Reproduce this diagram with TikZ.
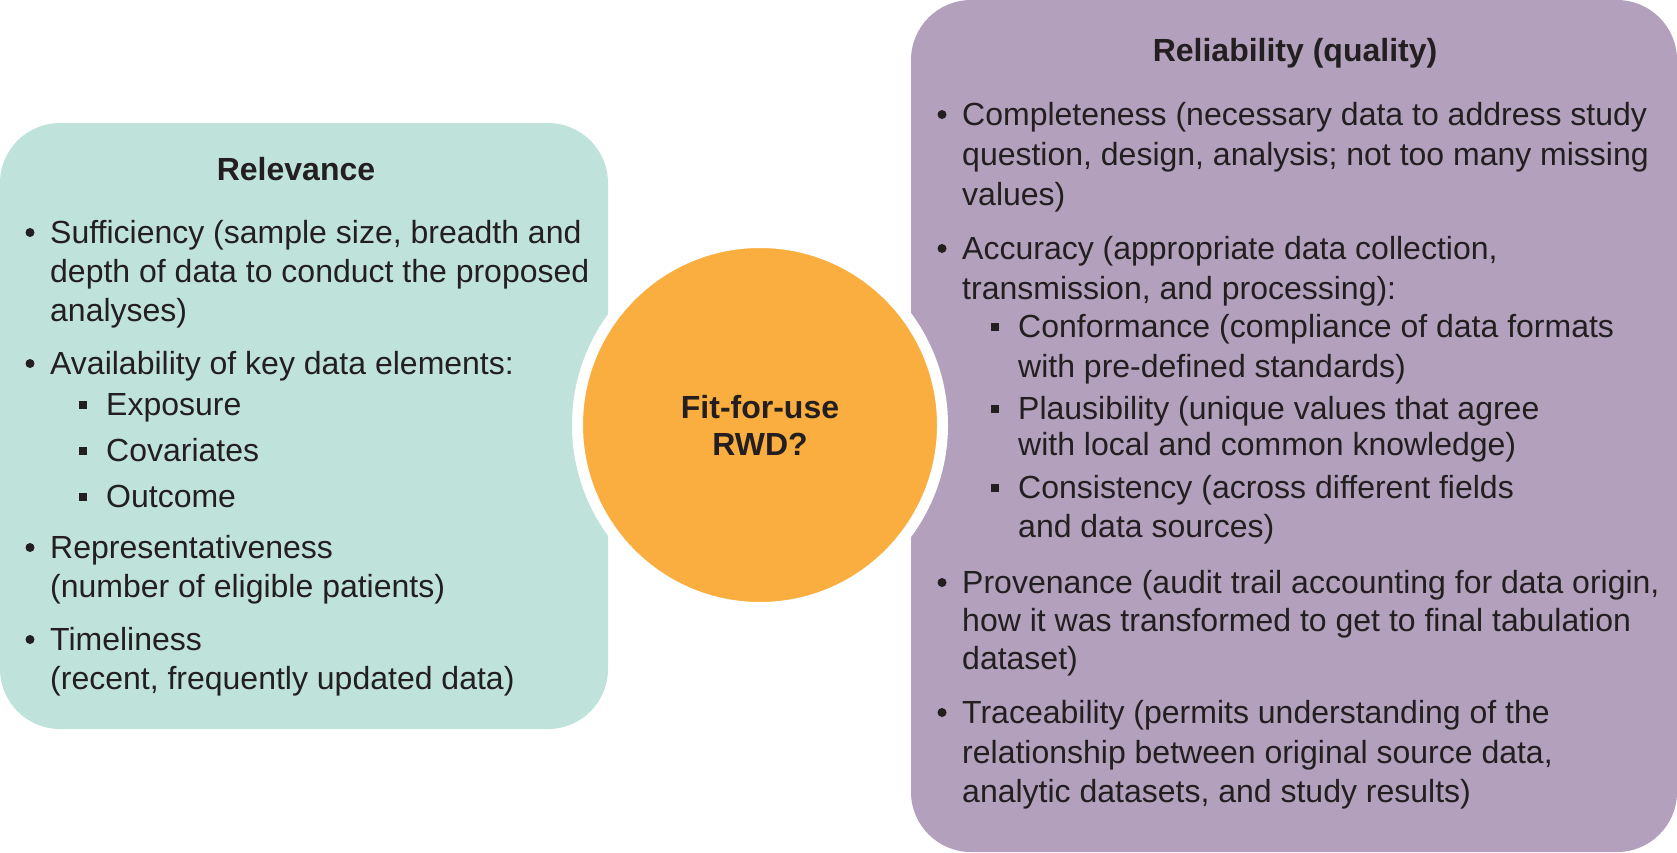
\documentclass[tikz,border=0pt]{standalone}
\usepackage{fontspec}
\setmainfont{Liberation Sans}
\definecolor{relcol}{HTML}{BFE3DB}
\definecolor{relicol}{HTML}{B3A0BD}
\definecolor{fitcol}{HTML}{F9AE3F}
\definecolor{txtcol}{HTML}{231F20}
\begin{document}
\begin{tikzpicture}[x=1pt,y=-1pt,
  txt/.style={anchor=base west, inner sep=0pt, text=txtcol, font=\fontsize{32}{39.5}\selectfont},
  ttl/.style={anchor=base, inner sep=0pt, text=txtcol, font=\fontsize{32}{39.5}\selectfont\bfseries},
  dot/.style={fill=txtcol},
  sq/.style={fill=txtcol}]
\useasboundingbox (0,0) rectangle (1677,852);
% boxes
\fill[relcol, rounded corners=60pt] (0,123) rectangle (608,729);
\fill[relicol, rounded corners=60pt] (911,0) rectangle (1677,852);
% centre circle
\node[circle, fill=fitcol, draw=white, line width=11pt, minimum size=365pt, inner sep=0pt,
      text=txtcol, align=center, font=\fontsize{32}{37}\selectfont\bfseries] (fit) at (760,425) {Fit-for-use\\RWD?};
% left box
\node[ttl] (relt) at (296,180) {Relevance};
\node[txt] (l1a) at (50,243) {Sufficiency (sample size, breadth and};
\node[txt] (l1b) at (50,282) {depth of data to conduct the proposed};
\node[txt] (l1c) at (50,321) {analyses)};
\node[txt] (l2a) at (50,374) {Availability of key data elements:};
\node[txt] (l2s1) at (106,415) {Exposure};
\node[txt] (l2s2) at (106,461) {Covariates};
\node[txt] (l2s3) at (106,507) {Outcome};
\node[txt] (l3a) at (50,558) {Representativeness};
\node[txt] (l3b) at (50,597) {(number of eligible patients)};
\node[txt] (l4a) at (50,650) {Timeliness};
\node[txt] (l4b) at (50,689) {(recent, frequently updated data)};
% right box
\node[ttl] (rlt) at (1295,61) {Reliability (quality)};
\node[txt] (r1a) at (962,125) {Completeness (necessary data to address study};
\node[txt] (r1b) at (962,165) {question, design, analysis; not too many missing};
\node[txt] (r1c) at (962,205) {values)};
\node[txt] (r2a) at (962,259) {Accuracy (appropriate data collection,};
\node[txt] (r2b) at (962,299) {transmission, and processing):};
\node[txt] (r2s1a) at (1018,337) {Conformance (compliance of data formats};
\node[txt] (r2s1b) at (1018,377) {with pre-defined standards)};
\node[txt] (r2s2a) at (1018,419) {Plausibility (unique values that agree};
\node[txt] (r2s2b) at (1018,455) {with local and common knowledge)};
\node[txt] (r2s3a) at (1018,498) {Consistency (across different fields};
\node[txt] (r2s3b) at (1018,537) {and data sources)};
\node[txt] (r3a) at (962,593) {Provenance (audit trail accounting for data origin,};
\node[txt] (r3b) at (962,631) {how it was transformed to get to final tabulation};
\node[txt] (r3c) at (962,669) {dataset)};
\node[txt] (r4a) at (962,723) {Traceability (permits understanding of the};
\node[txt] (r4b) at (962,763) {relationship between original source data,};
\node[txt] (r4c) at (962,802) {analytic datasets, and study results)};
% bullets
\foreach \n in {l1a,l2a,l3a,l4a,r1a,r2a,r3a,r4a}
  \fill[dot] ([xshift=-20pt,yshift=10.5pt]\n.base west) circle (4.5pt);
\foreach \n in {l2s1,l2s2,l2s3,r2s1a,r2s2a,r2s3a}
  \fill[sq] ([xshift=-27pt,yshift=14.5pt]\n.base west) rectangle ++(8pt,-8pt);
\end{tikzpicture}
\end{document}
